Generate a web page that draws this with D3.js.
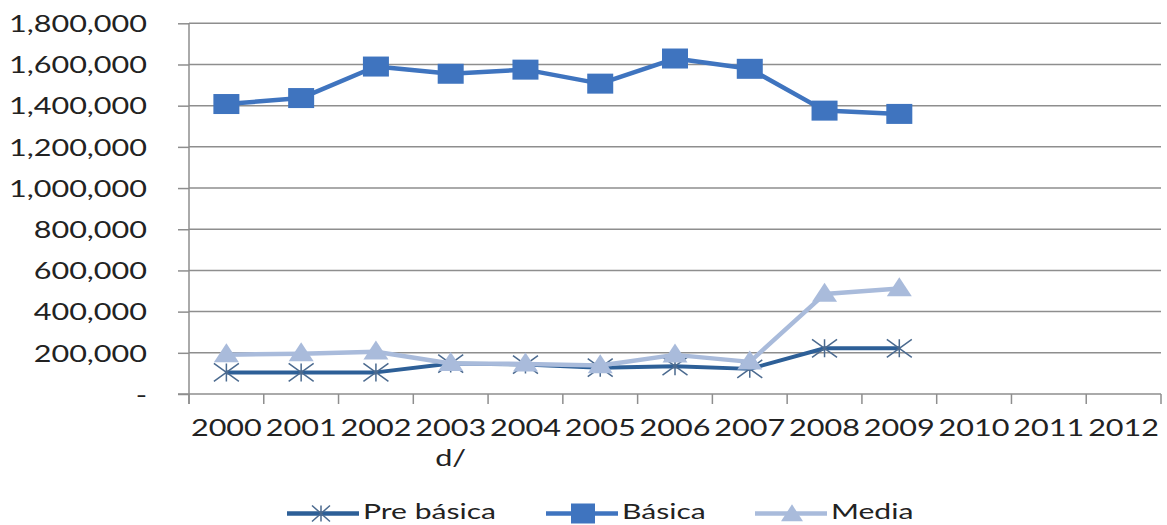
<!DOCTYPE html>
<html>
<head>
<meta charset="utf-8">
<script src="https://cdn.jsdelivr.net/npm/d3@7"></script>
<style>
  html, body { margin: 0; padding: 0; background: #fff; }
  svg text { font-family: Lato, "Open Sans", sans-serif; fill: #222; }
  .sx-end { transform-box: fill-box; transform-origin: right center; transform: scaleX(1.33); }
  .sx-mid { transform-box: fill-box; transform-origin: center center; transform: scaleX(1.33); }
  .sx-start { transform-box: fill-box; transform-origin: left center; transform: scaleX(1.4); }
</style>
</head>
<body>
<svg id="chart" width="1167" height="525"></svg>
<script>
const categories = ["2000","2001","2002","2003\nd/","2004","2005","2006","2007","2008","2009","2010","2011","2012"];
const preBasica = [105000,105000,105000,148000,143000,128000,135000,122000,222000,222000,null,null,null];
const basica    = [1408000,1437000,1590000,1555000,1575000,1507000,1629000,1579000,1376000,1360000,null,null,null];
const media     = [191000,196000,205000,148000,146000,138000,190000,156000,485000,512000,null,null,null];
const yTicks = [0,200000,400000,600000,800000,1000000,1200000,1400000,1600000,1800000];
const seriesNames = ["Pre básica","Básica","Media"];

(function () {
const svg = d3.select("#chart");
const pLeft = 189, pRight = 1161, pTop = 23.3, pBottom = 394;
const gridColor = "#8e8e8e";
const colors = { pre: "#2d5f97", bas: "#3f74bf", med: "#a9bbdb", star: "#4b6a8f" };

const x = d3.scaleBand().domain(categories).range([pLeft, pRight]).padding(0);
const y = d3.scaleLinear().domain([0, 1800000]).range([pBottom, pTop]);
const cx = c => x(c) + x.bandwidth() / 2;

// gridlines
svg.append("g").selectAll("line").data(yTicks.filter(d => d > 0)).join("line")
  .attr("x1", pLeft).attr("x2", pRight)
  .attr("y1", d => y(d)).attr("y2", d => y(d))
  .attr("stroke", gridColor).attr("stroke-width", 1.5);

// y axis
const fmt = d3.format(",");
const yAxis = svg.append("g").attr("transform", `translate(${pLeft},0)`)
  .call(d3.axisLeft(y).tickValues(yTicks).tickSize(11).tickPadding(31)
    .tickFormat(d => d === 0 ? "-" : fmt(d)));
yAxis.select(".domain").remove();
yAxis.selectAll(".tick line").attr("stroke", gridColor).attr("stroke-width", 1.5);
yAxis.selectAll(".tick text").attr("font-size", 23).attr("class", "sx-end").attr("dy", "0.36em")
  .attr("font-family", "Lato").attr("fill", "#222");
svg.append("line").attr("x1", pLeft).attr("x2", pLeft).attr("y1", pTop).attr("y2", pBottom + 10)
  .attr("stroke", gridColor).attr("stroke-width", 1.5);

// x axis
svg.append("line").attr("x1", pLeft - 11).attr("x2", pRight).attr("y1", pBottom).attr("y2", pBottom)
  .attr("stroke", gridColor).attr("stroke-width", 1.5);
const bounds = categories.map(c => x(c)).concat([pRight]);
svg.append("g").selectAll("line").data(bounds).join("line")
  .attr("x1", d => d).attr("x2", d => d).attr("y1", pBottom).attr("y2", pBottom + 10)
  .attr("stroke", gridColor).attr("stroke-width", 1.5);
const xl = svg.append("g").selectAll("text").data(categories).join("text")
  .attr("class", "sx-mid").attr("text-anchor", "middle").attr("font-size", 23)
  .attr("x", d => cx(d)).attr("y", 436.5);
xl.each(function(d) {
  const parts = d.split("\n");
  d3.select(this).selectAll("tspan").data(parts).join("tspan")
    .attr("x", cx(d)).attr("dy", (p, i) => i === 0 ? 0 : 30).text(p => p);
});

// series
function linePath(vals) {
  return d3.line().defined(d => d.v != null).x(d => cx(d.c)).y(d => y(d.v))(categories.map((c, i) => ({ c, v: vals[i] })));
}
function pts(vals) { return categories.map((c, i) => ({ c, v: vals[i] })).filter(d => d.v != null); }

const starPath = (w, h) => `M${-w/2},${-h/2}L${w/2},${h/2}M${-w/2},${h/2}L${w/2},${-h/2}M0,${-h/2}L0,${h/2}`;
const triPath = (w, h) => `M0,${-h*0.6}L${w/2},${h*0.4}L${-w/2},${h*0.4}Z`;

// Pre básica
svg.append("path").attr("d", linePath(preBasica)).attr("fill", "none")
  .attr("stroke", colors.pre).attr("stroke-width", 4).attr("stroke-linejoin", "round");
svg.append("g").selectAll("path").data(pts(preBasica)).join("path")
  .attr("transform", d => `translate(${cx(d.c)},${y(d.v)})`)
  .attr("d", starPath(25, 18)).attr("stroke", colors.star).attr("stroke-width", 1.5).attr("fill", "none");

// Básica
svg.append("path").attr("d", linePath(basica)).attr("fill", "none")
  .attr("stroke", colors.bas).attr("stroke-width", 4.5).attr("stroke-linejoin", "round");
svg.append("g").selectAll("rect").data(pts(basica)).join("rect")
  .attr("x", d => cx(d.c) - 13).attr("y", d => y(d.v) - 10)
  .attr("width", 26).attr("height", 20).attr("fill", colors.bas);

// Media
svg.append("path").attr("d", linePath(media)).attr("fill", "none")
  .attr("stroke", colors.med).attr("stroke-width", 4.5).attr("stroke-linejoin", "round");
svg.append("g").selectAll("path").data(pts(media)).join("path")
  .attr("transform", d => `translate(${cx(d.c)},${y(d.v)})`)
  .attr("d", triPath(25, 19)).attr("fill", colors.med);

// legend
const legendY = 513.5;
const legendItems = [
  { name: seriesNames[0], x0: 287, color: colors.pre, kind: "star" },
  { name: seriesNames[1], x0: 546, color: colors.bas, kind: "rect" },
  { name: seriesNames[2], x0: 755, color: colors.med, kind: "tri" }
];
const lg = svg.append("g").selectAll("g").data(legendItems).join("g");
lg.append("line").attr("x1", d => d.x0).attr("x2", d => d.x0 + 72)
  .attr("y1", legendY).attr("y2", legendY)
  .attr("stroke", d => d.color).attr("stroke-width", 4.5);
lg.filter(d => d.kind === "star").append("path")
  .attr("transform", d => `translate(${d.x0 + 34},${legendY})`)
  .attr("d", starPath(18, 16)).attr("stroke", colors.star).attr("stroke-width", 1.5).attr("fill", "none");
lg.filter(d => d.kind === "rect").append("rect")
  .attr("x", d => d.x0 + 37 - 12).attr("y", legendY - 10).attr("width", 24).attr("height", 20)
  .attr("fill", colors.bas);
lg.filter(d => d.kind === "tri").append("path")
  .attr("transform", d => `translate(${d.x0 + 37},${legendY + 1})`)
  .attr("d", triPath(22, 17)).attr("fill", colors.med);
lg.append("text").attr("class", "sx-start").attr("x", d => d.x0 + 76).attr("y", 519.5)
  .attr("font-size", 21.5).text(d => d.name);
})();
</script>
</body>
</html>
